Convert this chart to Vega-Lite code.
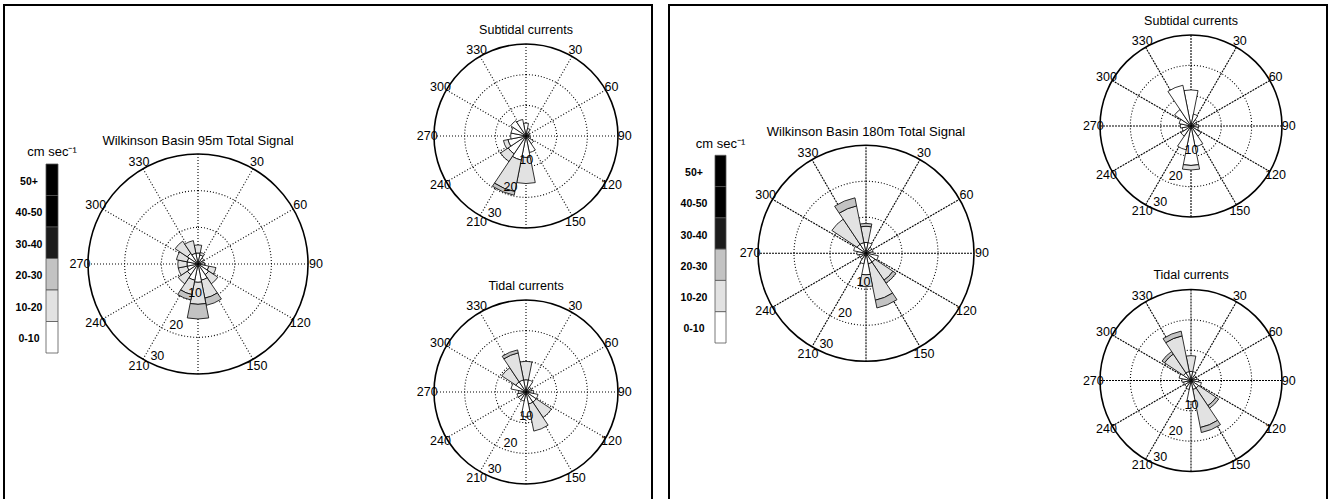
{
"$schema": "https://vega.github.io/schema/vega-lite/v6.json",
"background": "white",
"padding": {"left": 3, "top": 4, "right": 0, "bottom": 0},
"bounds": "flush",
"spacing": 17,
"config": {"view": {"stroke": "#000", "strokeWidth": 2}, "text": {"font": "Liberation Sans", "color": "#000"}, "scale": {"pointPadding": 0}},
"datasets": {
"spokes": [{"ang":0},{"ang":30},{"ang":60},{"ang":90},{"ang":120},{"ang":150},{"ang":180},{"ang":210},{"ang":240},{"ang":270},{"ang":300},{"ang":330}],
"rings": [{"r":10},{"r":20}],
"dirs": [{"ang":30,"label":"30"},{"ang":60,"label":"60"},{"ang":90,"label":"90"},{"ang":120,"label":"120"},{"ang":150,"label":"150"},{"ang":210,"label":"210"},{"ang":240,"label":"240"},{"ang":270,"label":"270"},{"ang":300,"label":"300"},{"ang":330,"label":"330"}],
"rads": [{"r":10,"label":"10"},{"r":20,"label":"20"},{"r":30,"label":"30"}],
"classes": [{"s":"50+"},{"s":"40-50"},{"s":"30-40"},{"s":"20-30"},{"s":"10-20"},{"s":"0-10"}],
"w95T": [
{"a0":-11.25,"a1":11.25,"s":"0-10","r0":0,"r1":3},
{"a0":-11.25,"a1":11.25,"s":"10-20","r0":3,"r1":5.2},
{"a0":11.25,"a1":33.75,"s":"0-10","r0":0,"r1":2.5},
{"a0":11.25,"a1":33.75,"s":"10-20","r0":2.5,"r1":3.2},
{"a0":33.75,"a1":56.25,"s":"0-10","r0":0,"r1":2},
{"a0":56.25,"a1":78.75,"s":"0-10","r0":0,"r1":1.5},
{"a0":78.75,"a1":101.25,"s":"0-10","r0":0,"r1":1.8},
{"a0":101.25,"a1":123.75,"s":"0-10","r0":0,"r1":3},
{"a0":101.25,"a1":123.75,"s":"10-20","r0":3,"r1":5},
{"a0":123.75,"a1":146.25,"s":"0-10","r0":0,"r1":3.5},
{"a0":123.75,"a1":146.25,"s":"10-20","r0":3.5,"r1":6.5},
{"a0":146.25,"a1":168.75,"s":"0-10","r0":0,"r1":4.5},
{"a0":146.25,"a1":168.75,"s":"10-20","r0":4.5,"r1":9.5},
{"a0":146.25,"a1":168.75,"s":"20-30","r0":9.5,"r1":11.5},
{"a0":168.75,"a1":191.25,"s":"0-10","r0":0,"r1":5},
{"a0":168.75,"a1":191.25,"s":"10-20","r0":5,"r1":11},
{"a0":168.75,"a1":191.25,"s":"20-30","r0":11,"r1":15},
{"a0":191.25,"a1":213.75,"s":"0-10","r0":0,"r1":4.5},
{"a0":191.25,"a1":213.75,"s":"10-20","r0":4.5,"r1":8.5},
{"a0":191.25,"a1":213.75,"s":"20-30","r0":8.5,"r1":10},
{"a0":213.75,"a1":236.25,"s":"0-10","r0":0,"r1":3.5},
{"a0":213.75,"a1":236.25,"s":"10-20","r0":3.5,"r1":6.5},
{"a0":236.25,"a1":258.75,"s":"0-10","r0":0,"r1":3},
{"a0":236.25,"a1":258.75,"s":"10-20","r0":3,"r1":5.5},
{"a0":258.75,"a1":281.25,"s":"0-10","r0":0,"r1":3},
{"a0":258.75,"a1":281.25,"s":"10-20","r0":3,"r1":5.5},
{"a0":281.25,"a1":303.75,"s":"0-10","r0":0,"r1":3},
{"a0":281.25,"a1":303.75,"s":"10-20","r0":3,"r1":6},
{"a0":303.75,"a1":326.25,"s":"0-10","r0":0,"r1":3.5},
{"a0":303.75,"a1":326.25,"s":"10-20","r0":3.5,"r1":7.5},
{"a0":326.25,"a1":348.75,"s":"0-10","r0":0,"r1":3},
{"a0":326.25,"a1":348.75,"s":"10-20","r0":3,"r1":6.5}
],
"w95S": [
{"a0":-11.25,"a1":11.25,"s":"0-10","r0":0,"r1":4.2},
{"a0":11.25,"a1":33.75,"s":"0-10","r0":0,"r1":2.5},
{"a0":33.75,"a1":56.25,"s":"0-10","r0":0,"r1":1.5},
{"a0":56.25,"a1":78.75,"s":"0-10","r0":0,"r1":1.2},
{"a0":78.75,"a1":101.25,"s":"0-10","r0":0,"r1":1},
{"a0":101.25,"a1":123.75,"s":"0-10","r0":0,"r1":1.5},
{"a0":123.75,"a1":146.25,"s":"0-10","r0":0,"r1":3},
{"a0":146.25,"a1":168.75,"s":"0-10","r0":0,"r1":5.5},
{"a0":168.75,"a1":191.25,"s":"0-10","r0":0,"r1":7},
{"a0":168.75,"a1":191.25,"s":"10-20","r0":7,"r1":15.5},
{"a0":191.25,"a1":213.75,"s":"0-10","r0":0,"r1":8},
{"a0":191.25,"a1":213.75,"s":"10-20","r0":8,"r1":18.5},
{"a0":191.25,"a1":213.75,"s":"20-30","r0":18.5,"r1":19.7},
{"a0":213.75,"a1":236.25,"s":"0-10","r0":0,"r1":7},
{"a0":213.75,"a1":236.25,"s":"10-20","r0":7,"r1":10},
{"a0":236.25,"a1":258.75,"s":"0-10","r0":0,"r1":6},
{"a0":236.25,"a1":258.75,"s":"10-20","r0":6,"r1":7.5},
{"a0":258.75,"a1":281.25,"s":"0-10","r0":0,"r1":5},
{"a0":281.25,"a1":303.75,"s":"0-10","r0":0,"r1":5},
{"a0":303.75,"a1":326.25,"s":"0-10","r0":0,"r1":6},
{"a0":326.25,"a1":348.75,"s":"0-10","r0":0,"r1":5.5}
],
"w95D": [
{"a0":-11.25,"a1":11.25,"s":"0-10","r0":0,"r1":4},
{"a0":-11.25,"a1":11.25,"s":"10-20","r0":4,"r1":10},
{"a0":11.25,"a1":33.75,"s":"0-10","r0":0,"r1":4},
{"a0":33.75,"a1":56.25,"s":"0-10","r0":0,"r1":2},
{"a0":56.25,"a1":78.75,"s":"0-10","r0":0,"r1":2},
{"a0":78.75,"a1":101.25,"s":"0-10","r0":0,"r1":2.5},
{"a0":101.25,"a1":123.75,"s":"0-10","r0":0,"r1":4},
{"a0":123.75,"a1":146.25,"s":"0-10","r0":0,"r1":4},
{"a0":123.75,"a1":146.25,"s":"10-20","r0":4,"r1":10},
{"a0":146.25,"a1":168.75,"s":"0-10","r0":0,"r1":4},
{"a0":146.25,"a1":168.75,"s":"10-20","r0":4,"r1":13},
{"a0":168.75,"a1":191.25,"s":"0-10","r0":0,"r1":8},
{"a0":191.25,"a1":213.75,"s":"0-10","r0":0,"r1":3},
{"a0":213.75,"a1":236.25,"s":"0-10","r0":0,"r1":3},
{"a0":236.25,"a1":258.75,"s":"0-10","r0":0,"r1":3},
{"a0":258.75,"a1":281.25,"s":"0-10","r0":0,"r1":2.5},
{"a0":281.25,"a1":303.75,"s":"0-10","r0":0,"r1":5},
{"a0":303.75,"a1":326.25,"s":"0-10","r0":0,"r1":4},
{"a0":303.75,"a1":326.25,"s":"10-20","r0":4,"r1":9.5},
{"a0":326.25,"a1":348.75,"s":"0-10","r0":0,"r1":4},
{"a0":326.25,"a1":348.75,"s":"10-20","r0":4,"r1":13},
{"a0":326.25,"a1":348.75,"s":"20-30","r0":13,"r1":14}
],
"w180T": [
{"a0":-11.25,"a1":11.25,"s":"0-10","r0":0,"r1":3},
{"a0":-11.25,"a1":11.25,"s":"10-20","r0":3,"r1":7.5},
{"a0":-11.25,"a1":11.25,"s":"20-30","r0":7.5,"r1":8.3},
{"a0":11.25,"a1":33.75,"s":"0-10","r0":0,"r1":3},
{"a0":33.75,"a1":56.25,"s":"0-10","r0":0,"r1":2},
{"a0":56.25,"a1":78.75,"s":"0-10","r0":0,"r1":2},
{"a0":78.75,"a1":101.25,"s":"0-10","r0":0,"r1":2},
{"a0":101.25,"a1":123.75,"s":"0-10","r0":0,"r1":3.5},
{"a0":123.75,"a1":146.25,"s":"0-10","r0":0,"r1":3},
{"a0":123.75,"a1":146.25,"s":"10-20","r0":3,"r1":9},
{"a0":123.75,"a1":146.25,"s":"20-30","r0":9,"r1":10},
{"a0":146.25,"a1":168.75,"s":"0-10","r0":0,"r1":3},
{"a0":146.25,"a1":168.75,"s":"10-20","r0":3,"r1":13.3},
{"a0":146.25,"a1":168.75,"s":"20-30","r0":13.3,"r1":15.5},
{"a0":168.75,"a1":191.25,"s":"0-10","r0":0,"r1":6},
{"a0":168.75,"a1":191.25,"s":"10-20","r0":6,"r1":9.3},
{"a0":191.25,"a1":213.75,"s":"0-10","r0":0,"r1":3},
{"a0":213.75,"a1":236.25,"s":"0-10","r0":0,"r1":2},
{"a0":236.25,"a1":258.75,"s":"0-10","r0":0,"r1":2},
{"a0":258.75,"a1":281.25,"s":"0-10","r0":0,"r1":2.5},
{"a0":281.25,"a1":303.75,"s":"0-10","r0":0,"r1":3.5},
{"a0":303.75,"a1":326.25,"s":"0-10","r0":0,"r1":3},
{"a0":303.75,"a1":326.25,"s":"10-20","r0":3,"r1":11.4},
{"a0":326.25,"a1":348.75,"s":"0-10","r0":0,"r1":3},
{"a0":326.25,"a1":348.75,"s":"10-20","r0":3,"r1":13.4},
{"a0":326.25,"a1":348.75,"s":"20-30","r0":13.4,"r1":15.7}
],
"w180S": [
{"a0":-11.25,"a1":11.25,"s":"0-10","r0":0,"r1":11.9},
{"a0":11.25,"a1":33.75,"s":"0-10","r0":0,"r1":4},
{"a0":33.75,"a1":56.25,"s":"0-10","r0":0,"r1":2.5},
{"a0":56.25,"a1":78.75,"s":"0-10","r0":0,"r1":2},
{"a0":78.75,"a1":101.25,"s":"0-10","r0":0,"r1":2.5},
{"a0":101.25,"a1":123.75,"s":"0-10","r0":0,"r1":2.5},
{"a0":123.75,"a1":146.25,"s":"0-10","r0":0,"r1":4},
{"a0":146.25,"a1":168.75,"s":"0-10","r0":0,"r1":7},
{"a0":168.75,"a1":191.25,"s":"0-10","r0":0,"r1":13},
{"a0":168.75,"a1":191.25,"s":"10-20","r0":13,"r1":14.5},
{"a0":191.25,"a1":213.75,"s":"0-10","r0":0,"r1":8},
{"a0":213.75,"a1":236.25,"s":"0-10","r0":0,"r1":4},
{"a0":236.25,"a1":258.75,"s":"0-10","r0":0,"r1":3},
{"a0":258.75,"a1":281.25,"s":"0-10","r0":0,"r1":3.5},
{"a0":281.25,"a1":303.75,"s":"0-10","r0":0,"r1":4},
{"a0":303.75,"a1":326.25,"s":"0-10","r0":0,"r1":6.5},
{"a0":326.25,"a1":348.75,"s":"0-10","r0":0,"r1":13.7}
],
"w180D": [
{"a0":-11.25,"a1":11.25,"s":"0-10","r0":0,"r1":3},
{"a0":-11.25,"a1":11.25,"s":"10-20","r0":3,"r1":8.2},
{"a0":11.25,"a1":33.75,"s":"0-10","r0":0,"r1":3},
{"a0":33.75,"a1":56.25,"s":"0-10","r0":0,"r1":2},
{"a0":56.25,"a1":78.75,"s":"0-10","r0":0,"r1":2},
{"a0":78.75,"a1":101.25,"s":"0-10","r0":0,"r1":2.5},
{"a0":101.25,"a1":123.75,"s":"0-10","r0":0,"r1":3.5},
{"a0":123.75,"a1":146.25,"s":"0-10","r0":0,"r1":3},
{"a0":123.75,"a1":146.25,"s":"10-20","r0":3,"r1":10},
{"a0":123.75,"a1":146.25,"s":"20-30","r0":10,"r1":11},
{"a0":146.25,"a1":168.75,"s":"0-10","r0":0,"r1":3},
{"a0":146.25,"a1":168.75,"s":"10-20","r0":3,"r1":15.8},
{"a0":146.25,"a1":168.75,"s":"20-30","r0":15.8,"r1":17.5},
{"a0":168.75,"a1":191.25,"s":"0-10","r0":0,"r1":7},
{"a0":191.25,"a1":213.75,"s":"0-10","r0":0,"r1":3},
{"a0":213.75,"a1":236.25,"s":"0-10","r0":0,"r1":2.5},
{"a0":236.25,"a1":258.75,"s":"0-10","r0":0,"r1":2.5},
{"a0":258.75,"a1":281.25,"s":"0-10","r0":0,"r1":3},
{"a0":281.25,"a1":303.75,"s":"0-10","r0":0,"r1":4},
{"a0":303.75,"a1":326.25,"s":"0-10","r0":0,"r1":3},
{"a0":303.75,"a1":326.25,"s":"10-20","r0":3,"r1":10.5},
{"a0":303.75,"a1":326.25,"s":"20-30","r0":10.5,"r1":11.5},
{"a0":326.25,"a1":348.75,"s":"0-10","r0":0,"r1":3},
{"a0":326.25,"a1":348.75,"s":"10-20","r0":3,"r1":15},
{"a0":326.25,"a1":348.75,"s":"20-30","r0":15,"r1":16.6}
]
},
"hconcat": [
{
"width": 648, "height": 496,
"resolve": {"scale": {"x": "independent", "y": "independent", "radius": "independent"}},
"layer": [
{
"layer": [
{"data": {"name": "classes"}, "mark": {"type": "rect", "stroke": "#555", "strokeWidth": 0.8},
 "encoding": {
  "x": {"datum": "bar", "type": "nominal", "scale": {"type": "band", "domain": ["label","bar"], "range": [19, 54], "paddingInner": 0.4783, "paddingOuter": 0}, "axis": null},
  "y": {"field": "s", "type": "nominal", "scale": {"type": "band", "domain": ["title","50+","40-50","30-40","20-30","10-20","0-10"], "range": [127.5, 348], "paddingInner": 0, "paddingOuter": 0}, "axis": null},
  "fill": {"field": "s", "type": "nominal", "scale": {"domain": ["0-10","10-20","20-30","30-40","40-50","50+"], "range": ["#ffffff","#e2e2e2","#c3c3c3","#1c1c1c","#000000","#000000"]}, "legend": null}}},
{"data": {"name": "classes"}, "mark": {"type": "text", "fontSize": 10.5, "fontWeight": "bold", "dy": 2},
 "encoding": {"x": {"datum": "label", "type": "nominal", "axis": null}, "y": {"field": "s", "type": "nominal", "axis": null}, "text": {"field": "s"}}},
{"data": {"values": [{"t": "cm sec⁻¹"}]}, "mark": {"type": "text", "fontSize": 13, "dy": 4},
 "encoding": {"x": {"datum": "bar", "type": "nominal", "axis": null}, "y": {"datum": "title", "type": "nominal", "axis": null}, "text": {"field": "t"}}}
]
},
{
"encoding": {
 "x": {"datum": "main", "type": "nominal", "scale": {"type": "point", "domain": ["main","side"], "range": [194, 522], "padding": 0}, "axis": null},
 "y": {"datum": "mid", "type": "nominal", "scale": {"type": "point", "domain": ["top","mid","bottom"], "range": [131, 387], "padding": 0}, "axis": null}
},
"layer": [
{"data": {"name": "rings"}, "mark": {"type": "arc", "theta": 0, "theta2": 6.283185307179586, "fill": "transparent", "stroke": "#000", "strokeWidth": 1.1, "strokeDash": [1, 2]},
 "encoding": {"radius": {"field": "r", "type": "quantitative", "stack": null, "scale": {"type": "linear", "domain": [0, 30], "range": [0, 110]}}}},
{"data": {"name": "spokes"}, "mark": {"type": "arc", "fill": "transparent", "stroke": "#000", "strokeWidth": 1.1, "strokeDash": [1, 2]},
 "encoding": {"theta": {"field": "ang", "type": "quantitative", "stack": null, "scale": {"type": "linear", "domain": [0, 360], "range": [0, 6.283185307179586]}}, "theta2": {"field": "ang"}, "radius": {"datum": 30, "type": "quantitative"}, "radius2": {"datum": 0}}},
{"data": {"name": "w95T"}, "mark": {"type": "arc", "stroke": "#000", "strokeWidth": 0.8},
 "encoding": {"theta": {"field": "a0", "type": "quantitative", "stack": null}, "theta2": {"field": "a1"}, "radius": {"field": "r1", "type": "quantitative", "stack": null}, "radius2": {"field": "r0"},
  "fill": {"field": "s", "type": "nominal", "scale": {"domain": ["0-10","10-20","20-30","30-40","40-50","50+"], "range": ["#ffffff","#e2e2e2","#c3c3c3","#1c1c1c","#000000","#000000"]}, "legend": null}}},
{"data": {"values": [{}]}, "mark": {"type": "arc", "theta": 0, "theta2": 6.283185307179586, "fill": "transparent", "stroke": "#000", "strokeWidth": 1.6},
 "encoding": {"radius": {"datum": 30, "type": "quantitative"}}},
{"data": {"name": "dirs"}, "mark": {"type": "text", "fontSize": 12.5},
 "encoding": {"theta": {"field": "ang", "type": "quantitative", "stack": null}, "radius": {"datum": 32.2, "type": "quantitative"}, "text": {"field": "label"}}},
{"data": {"name": "rads"}, "mark": {"type": "text", "fontSize": 12.5, "dx": 16, "dy": -2},
 "encoding": {"theta": {"datum": 211, "type": "quantitative"}, "radius": {"field": "r", "type": "quantitative"}, "text": {"field": "label"}}},
{"data": {"values": [{"t": "Wilkinson Basin 95m Total Signal"}]}, "mark": {"type": "text", "fontSize": 13},
 "encoding": {"theta": {"datum": 0, "type": "quantitative"}, "radius": {"datum": 33.6, "type": "quantitative"}, "text": {"field": "t"}}}
]
},
{
"encoding": {
 "x": {"datum": "side", "type": "nominal", "scale": {"type": "point", "domain": ["main","side"], "range": [194, 522], "padding": 0}, "axis": null},
 "y": {"datum": "top", "type": "nominal", "scale": {"type": "point", "domain": ["top","mid","bottom"], "range": [131, 387], "padding": 0}, "axis": null}
},
"layer": [
{"data": {"name": "rings"}, "mark": {"type": "arc", "theta": 0, "theta2": 6.283185307179586, "fill": "transparent", "stroke": "#000", "strokeWidth": 1.1, "strokeDash": [1, 2]},
 "encoding": {"radius": {"field": "r", "type": "quantitative", "stack": null, "scale": {"type": "linear", "domain": [0, 30], "range": [0, 92]}}}},
{"data": {"name": "spokes"}, "mark": {"type": "arc", "fill": "transparent", "stroke": "#000", "strokeWidth": 1.1, "strokeDash": [1, 2]},
 "encoding": {"theta": {"field": "ang", "type": "quantitative", "stack": null, "scale": {"type": "linear", "domain": [0, 360], "range": [0, 6.283185307179586]}}, "theta2": {"field": "ang"}, "radius": {"datum": 30, "type": "quantitative"}, "radius2": {"datum": 0}}},
{"data": {"name": "w95S"}, "mark": {"type": "arc", "stroke": "#000", "strokeWidth": 0.8},
 "encoding": {"theta": {"field": "a0", "type": "quantitative", "stack": null}, "theta2": {"field": "a1"}, "radius": {"field": "r1", "type": "quantitative", "stack": null}, "radius2": {"field": "r0"},
  "fill": {"field": "s", "type": "nominal", "scale": {"domain": ["0-10","10-20","20-30","30-40","40-50","50+"], "range": ["#ffffff","#e2e2e2","#c3c3c3","#1c1c1c","#000000","#000000"]}, "legend": null}}},
{"data": {"values": [{}]}, "mark": {"type": "arc", "theta": 0, "theta2": 6.283185307179586, "fill": "transparent", "stroke": "#000", "strokeWidth": 1.6},
 "encoding": {"radius": {"datum": 30, "type": "quantitative"}}},
{"data": {"name": "dirs"}, "mark": {"type": "text", "fontSize": 12.5},
 "encoding": {"theta": {"field": "ang", "type": "quantitative", "stack": null}, "radius": {"datum": 32.2, "type": "quantitative"}, "text": {"field": "label"}}},
{"data": {"name": "rads"}, "mark": {"type": "text", "fontSize": 12.5, "dx": 16, "dy": -2},
 "encoding": {"theta": {"datum": 211, "type": "quantitative"}, "radius": {"field": "r", "type": "quantitative"}, "text": {"field": "label"}}},
{"data": {"values": [{"t": "Subtidal currents"}]}, "mark": {"type": "text", "fontSize": 12.5},
 "encoding": {"theta": {"datum": 0, "type": "quantitative"}, "radius": {"datum": 34.7, "type": "quantitative"}, "text": {"field": "t"}}}
]
},
{
"encoding": {
 "x": {"datum": "side", "type": "nominal", "scale": {"type": "point", "domain": ["main","side"], "range": [194, 522], "padding": 0}, "axis": null},
 "y": {"datum": "bottom", "type": "nominal", "scale": {"type": "point", "domain": ["top","mid","bottom"], "range": [131, 387], "padding": 0}, "axis": null}
},
"layer": [
{"data": {"name": "rings"}, "mark": {"type": "arc", "theta": 0, "theta2": 6.283185307179586, "fill": "transparent", "stroke": "#000", "strokeWidth": 1.1, "strokeDash": [1, 2]},
 "encoding": {"radius": {"field": "r", "type": "quantitative", "stack": null, "scale": {"type": "linear", "domain": [0, 30], "range": [0, 92]}}}},
{"data": {"name": "spokes"}, "mark": {"type": "arc", "fill": "transparent", "stroke": "#000", "strokeWidth": 1.1, "strokeDash": [1, 2]},
 "encoding": {"theta": {"field": "ang", "type": "quantitative", "stack": null, "scale": {"type": "linear", "domain": [0, 360], "range": [0, 6.283185307179586]}}, "theta2": {"field": "ang"}, "radius": {"datum": 30, "type": "quantitative"}, "radius2": {"datum": 0}}},
{"data": {"name": "w95D"}, "mark": {"type": "arc", "stroke": "#000", "strokeWidth": 0.8},
 "encoding": {"theta": {"field": "a0", "type": "quantitative", "stack": null}, "theta2": {"field": "a1"}, "radius": {"field": "r1", "type": "quantitative", "stack": null}, "radius2": {"field": "r0"},
  "fill": {"field": "s", "type": "nominal", "scale": {"domain": ["0-10","10-20","20-30","30-40","40-50","50+"], "range": ["#ffffff","#e2e2e2","#c3c3c3","#1c1c1c","#000000","#000000"]}, "legend": null}}},
{"data": {"values": [{}]}, "mark": {"type": "arc", "theta": 0, "theta2": 6.283185307179586, "fill": "transparent", "stroke": "#000", "strokeWidth": 1.6},
 "encoding": {"radius": {"datum": 30, "type": "quantitative"}}},
{"data": {"name": "dirs"}, "mark": {"type": "text", "fontSize": 12.5},
 "encoding": {"theta": {"field": "ang", "type": "quantitative", "stack": null}, "radius": {"datum": 32.2, "type": "quantitative"}, "text": {"field": "label"}}},
{"data": {"name": "rads"}, "mark": {"type": "text", "fontSize": 12.5, "dx": 16, "dy": -2},
 "encoding": {"theta": {"datum": 211, "type": "quantitative"}, "radius": {"field": "r", "type": "quantitative"}, "text": {"field": "label"}}},
{"data": {"values": [{"t": "Tidal currents"}]}, "mark": {"type": "text", "fontSize": 12.5},
 "encoding": {"theta": {"datum": 0, "type": "quantitative"}, "radius": {"datum": 34.7, "type": "quantitative"}, "text": {"field": "t"}}}
]
}
]
},
{
"width": 658, "height": 496,
"resolve": {"scale": {"x": "independent", "y": "independent", "radius": "independent"}},
"layer": [
{
"layer": [
{"data": {"name": "classes"}, "mark": {"type": "rect", "stroke": "#555", "strokeWidth": 0.8},
 "encoding": {
  "x": {"datum": "bar", "type": "nominal", "scale": {"type": "band", "domain": ["label","bar"], "range": [19.5, 57], "paddingInner": 0.585, "paddingOuter": 0}, "axis": null},
  "y": {"field": "s", "type": "nominal", "scale": {"type": "band", "domain": ["title","50+","40-50","30-40","20-30","10-20","0-10"], "range": [119, 338], "paddingInner": 0, "paddingOuter": 0}, "axis": null},
  "fill": {"field": "s", "type": "nominal", "scale": {"domain": ["0-10","10-20","20-30","30-40","40-50","50+"], "range": ["#ffffff","#e2e2e2","#c3c3c3","#1c1c1c","#000000","#000000"]}, "legend": null}}},
{"data": {"name": "classes"}, "mark": {"type": "text", "fontSize": 10.5, "fontWeight": "bold", "dy": 2},
 "encoding": {"x": {"datum": "label", "type": "nominal", "axis": null}, "y": {"field": "s", "type": "nominal", "axis": null}, "text": {"field": "s"}}},
{"data": {"values": [{"t": "cm sec⁻¹"}]}, "mark": {"type": "text", "fontSize": 13, "dy": 4},
 "encoding": {"x": {"datum": "bar", "type": "nominal", "axis": null}, "y": {"datum": "title", "type": "nominal", "axis": null}, "text": {"field": "t"}}}
]
},
{
"encoding": {
 "x": {"datum": "main", "type": "nominal", "scale": {"type": "point", "domain": ["main","side"], "range": [197, 522], "padding": 0}, "axis": null},
 "y": {"datum": "mid", "type": "nominal", "scale": {"type": "point", "domain": ["top","mid","bottom"], "range": [121, 375.5], "padding": 0}, "axis": null}
},
"layer": [
{"data": {"name": "rings"}, "mark": {"type": "arc", "theta": 0, "theta2": 6.283185307179586, "fill": "transparent", "stroke": "#000", "strokeWidth": 1.1, "strokeDash": [1, 2]},
 "encoding": {"radius": {"field": "r", "type": "quantitative", "stack": null, "scale": {"type": "linear", "domain": [0, 30], "range": [0, 108]}}}},
{"data": {"name": "spokes"}, "mark": {"type": "arc", "fill": "transparent", "stroke": "#000", "strokeWidth": 1.1, "strokeDash": [1, 2]},
 "encoding": {"theta": {"field": "ang", "type": "quantitative", "stack": null, "scale": {"type": "linear", "domain": [0, 360], "range": [0, 6.283185307179586]}}, "theta2": {"field": "ang"}, "radius": {"datum": 30, "type": "quantitative"}, "radius2": {"datum": 0}}},
{"data": {"name": "w180T"}, "mark": {"type": "arc", "stroke": "#000", "strokeWidth": 0.8},
 "encoding": {"theta": {"field": "a0", "type": "quantitative", "stack": null}, "theta2": {"field": "a1"}, "radius": {"field": "r1", "type": "quantitative", "stack": null}, "radius2": {"field": "r0"},
  "fill": {"field": "s", "type": "nominal", "scale": {"domain": ["0-10","10-20","20-30","30-40","40-50","50+"], "range": ["#ffffff","#e2e2e2","#c3c3c3","#1c1c1c","#000000","#000000"]}, "legend": null}}},
{"data": {"values": [{}]}, "mark": {"type": "arc", "theta": 0, "theta2": 6.283185307179586, "fill": "transparent", "stroke": "#000", "strokeWidth": 1.6},
 "encoding": {"radius": {"datum": 30, "type": "quantitative"}}},
{"data": {"name": "dirs"}, "mark": {"type": "text", "fontSize": 12.5},
 "encoding": {"theta": {"field": "ang", "type": "quantitative", "stack": null}, "radius": {"datum": 32.2, "type": "quantitative"}, "text": {"field": "label"}}},
{"data": {"name": "rads"}, "mark": {"type": "text", "fontSize": 12.5, "dx": 16, "dy": -2},
 "encoding": {"theta": {"datum": 211, "type": "quantitative"}, "radius": {"field": "r", "type": "quantitative"}, "text": {"field": "label"}}},
{"data": {"values": [{"t": "Wilkinson Basin 180m Total Signal"}]}, "mark": {"type": "text", "fontSize": 13},
 "encoding": {"theta": {"datum": 0, "type": "quantitative"}, "radius": {"datum": 33.6, "type": "quantitative"}, "text": {"field": "t"}}}
]
},
{
"encoding": {
 "x": {"datum": "side", "type": "nominal", "scale": {"type": "point", "domain": ["main","side"], "range": [197, 522], "padding": 0}, "axis": null},
 "y": {"datum": "top", "type": "nominal", "scale": {"type": "point", "domain": ["top","mid","bottom"], "range": [121, 375.5], "padding": 0}, "axis": null}
},
"layer": [
{"data": {"name": "rings"}, "mark": {"type": "arc", "theta": 0, "theta2": 6.283185307179586, "fill": "transparent", "stroke": "#000", "strokeWidth": 1.1, "strokeDash": [1, 2]},
 "encoding": {"radius": {"field": "r", "type": "quantitative", "stack": null, "scale": {"type": "linear", "domain": [0, 30], "range": [0, 91]}}}},
{"data": {"name": "spokes"}, "mark": {"type": "arc", "fill": "transparent", "stroke": "#000", "strokeWidth": 1.1, "strokeDash": [1, 2]},
 "encoding": {"theta": {"field": "ang", "type": "quantitative", "stack": null, "scale": {"type": "linear", "domain": [0, 360], "range": [0, 6.283185307179586]}}, "theta2": {"field": "ang"}, "radius": {"datum": 30, "type": "quantitative"}, "radius2": {"datum": 0}}},
{"data": {"name": "w180S"}, "mark": {"type": "arc", "stroke": "#000", "strokeWidth": 0.8},
 "encoding": {"theta": {"field": "a0", "type": "quantitative", "stack": null}, "theta2": {"field": "a1"}, "radius": {"field": "r1", "type": "quantitative", "stack": null}, "radius2": {"field": "r0"},
  "fill": {"field": "s", "type": "nominal", "scale": {"domain": ["0-10","10-20","20-30","30-40","40-50","50+"], "range": ["#ffffff","#e2e2e2","#c3c3c3","#1c1c1c","#000000","#000000"]}, "legend": null}}},
{"data": {"values": [{}]}, "mark": {"type": "arc", "theta": 0, "theta2": 6.283185307179586, "fill": "transparent", "stroke": "#000", "strokeWidth": 1.6},
 "encoding": {"radius": {"datum": 30, "type": "quantitative"}}},
{"data": {"name": "dirs"}, "mark": {"type": "text", "fontSize": 12.5},
 "encoding": {"theta": {"field": "ang", "type": "quantitative", "stack": null}, "radius": {"datum": 32.2, "type": "quantitative"}, "text": {"field": "label"}}},
{"data": {"name": "rads"}, "mark": {"type": "text", "fontSize": 12.5, "dx": 16, "dy": -2},
 "encoding": {"theta": {"datum": 211, "type": "quantitative"}, "radius": {"field": "r", "type": "quantitative"}, "text": {"field": "label"}}},
{"data": {"values": [{"t": "Subtidal currents"}]}, "mark": {"type": "text", "fontSize": 12.5},
 "encoding": {"theta": {"datum": 0, "type": "quantitative"}, "radius": {"datum": 34.7, "type": "quantitative"}, "text": {"field": "t"}}}
]
},
{
"encoding": {
 "x": {"datum": "side", "type": "nominal", "scale": {"type": "point", "domain": ["main","side"], "range": [197, 522], "padding": 0}, "axis": null},
 "y": {"datum": "bottom", "type": "nominal", "scale": {"type": "point", "domain": ["top","mid","bottom"], "range": [121, 375.5], "padding": 0}, "axis": null}
},
"layer": [
{"data": {"name": "rings"}, "mark": {"type": "arc", "theta": 0, "theta2": 6.283185307179586, "fill": "transparent", "stroke": "#000", "strokeWidth": 1.1, "strokeDash": [1, 2]},
 "encoding": {"radius": {"field": "r", "type": "quantitative", "stack": null, "scale": {"type": "linear", "domain": [0, 30], "range": [0, 91]}}}},
{"data": {"name": "spokes"}, "mark": {"type": "arc", "fill": "transparent", "stroke": "#000", "strokeWidth": 1.1, "strokeDash": [1, 2]},
 "encoding": {"theta": {"field": "ang", "type": "quantitative", "stack": null, "scale": {"type": "linear", "domain": [0, 360], "range": [0, 6.283185307179586]}}, "theta2": {"field": "ang"}, "radius": {"datum": 30, "type": "quantitative"}, "radius2": {"datum": 0}}},
{"data": {"name": "w180D"}, "mark": {"type": "arc", "stroke": "#000", "strokeWidth": 0.8},
 "encoding": {"theta": {"field": "a0", "type": "quantitative", "stack": null}, "theta2": {"field": "a1"}, "radius": {"field": "r1", "type": "quantitative", "stack": null}, "radius2": {"field": "r0"},
  "fill": {"field": "s", "type": "nominal", "scale": {"domain": ["0-10","10-20","20-30","30-40","40-50","50+"], "range": ["#ffffff","#e2e2e2","#c3c3c3","#1c1c1c","#000000","#000000"]}, "legend": null}}},
{"data": {"values": [{}]}, "mark": {"type": "arc", "theta": 0, "theta2": 6.283185307179586, "fill": "transparent", "stroke": "#000", "strokeWidth": 1.6},
 "encoding": {"radius": {"datum": 30, "type": "quantitative"}}},
{"data": {"name": "dirs"}, "mark": {"type": "text", "fontSize": 12.5},
 "encoding": {"theta": {"field": "ang", "type": "quantitative", "stack": null}, "radius": {"datum": 32.2, "type": "quantitative"}, "text": {"field": "label"}}},
{"data": {"name": "rads"}, "mark": {"type": "text", "fontSize": 12.5, "dx": 16, "dy": -2},
 "encoding": {"theta": {"datum": 211, "type": "quantitative"}, "radius": {"field": "r", "type": "quantitative"}, "text": {"field": "label"}}},
{"data": {"values": [{"t": "Tidal currents"}]}, "mark": {"type": "text", "fontSize": 12.5},
 "encoding": {"theta": {"datum": 0, "type": "quantitative"}, "radius": {"datum": 34.7, "type": "quantitative"}, "text": {"field": "t"}}}
]
}
]
}
]
}
